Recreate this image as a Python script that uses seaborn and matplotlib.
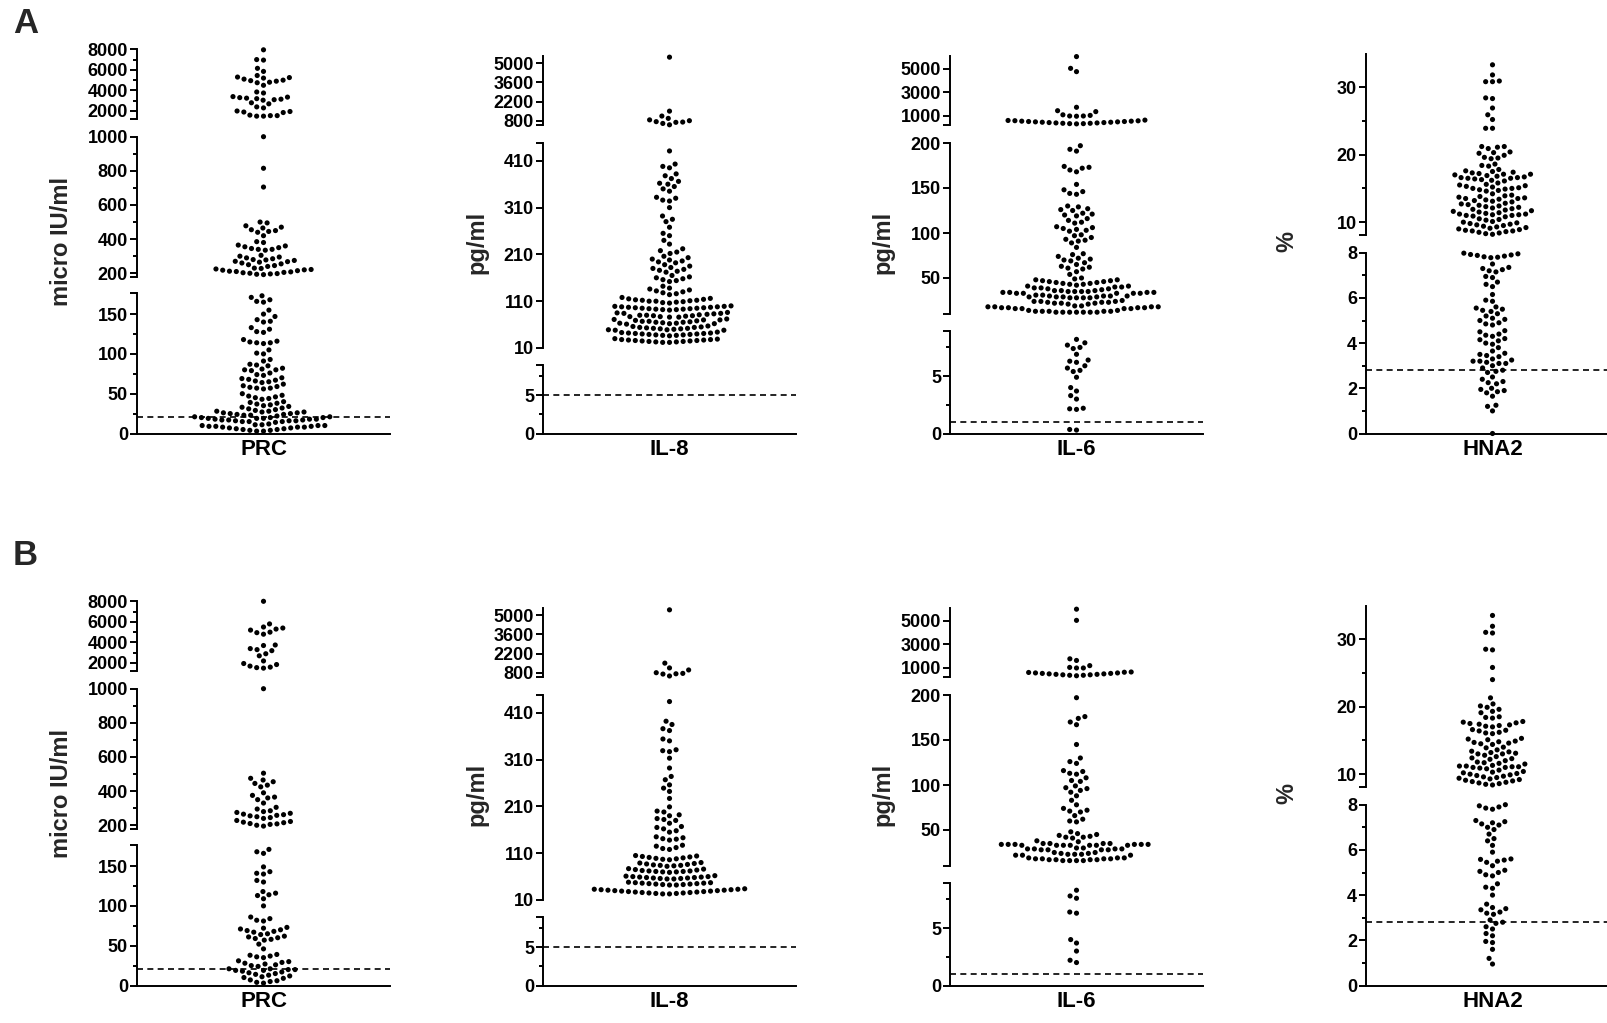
import matplotlib
matplotlib.use("Agg")
import matplotlib.pyplot as plt
import numpy as np
import pandas as pd
import seaborn as sns

sns.set_theme(style="ticks")
plt.rcParams["font.family"] = ["Liberation Sans", "DejaVu Sans"]
plt.rcParams["font.weight"] = "bold"
plt.rcParams["axes.labelweight"] = "bold"

# ---------------- data ----------------
markers = ["PRC", "IL-8", "IL-6", "HNA2"]
units = ["micro IU/ml", "pg/ml", "pg/ml", "%"]
thresholds = [21, 5, 1, 2.8]
panel_letters = ["A", "B"]

prc_a = [7950, 7000, 6950, 6150, 5850, 5450, 5300, 5250, 5200, 5100, 5000, 4950, 4900,
         4800, 4750, 4500, 3850, 3750, 3400, 3350, 3300, 3250, 3200, 3150, 3100, 3050,
         2800, 2700, 2400, 2300, 2000, 1950, 1900, 1850, 1600, 1550, 1550, 1500, 1500,
         1000, 815, 705, 500, 495, 478, 470, 465, 455, 450, 445, 440, 420, 385, 380,
         365, 360, 355, 350, 345, 340, 340, 335, 305, 300, 295, 290, 285, 280, 278, 275,
         270, 268, 265, 260, 255, 250, 245, 240, 230, 228, 225, 222, 220, 218, 215, 212,
         210, 208, 205, 203, 200, 198, 196, 194, 192,
         173, 171, 168, 166, 165, 155, 150, 147, 143, 141, 140, 133, 131, 128, 127,
         118, 116, 115, 114, 114, 113, 105, 101, 100, 93, 91, 87, 86, 85, 82, 81, 80,
         80, 79, 76, 74, 73, 70, 69, 68, 67, 66, 65, 64, 62, 60, 59, 58, 57, 57, 56,
         50, 48, 47, 46, 45, 44, 43, 40, 39, 38, 37, 36, 35, 34, 33, 32, 31,
         30, 29, 28, 28, 27, 27, 26, 26, 25, 25, 24, 24, 23, 23,
         22, 21, 21, 20, 20, 20, 19, 19, 19, 18, 18, 18, 17, 17, 17, 16, 16, 16, 15, 15, 15, 14,
         12, 11, 11, 10, 10, 10, 9, 9, 9, 8, 8, 8, 7, 7, 6, 6, 5, 5, 4, 4, 3, 3]

il8_a = [5450, 1500, 1140, 970, 860, 800, 730, 700, 680, 600, 500,
         431, 403, 398, 395, 382, 378, 372, 366, 362, 360, 355, 350, 345, 332, 330, 326,
         324, 310, 292, 285, 280, 268, 255, 250, 240, 232, 222, 218, 215, 212,
         206, 203, 200, 198, 196, 194, 192, 188, 185, 182, 180, 178, 176, 174, 172,
         165, 162, 160, 158, 156, 154, 152, 142, 138, 136, 134, 132, 130, 128, 126, 124,
         118, 116, 115, 114, 113, 112, 112, 111, 110, 110, 109, 108, 107, 106,
         100, 99, 99, 98, 98, 97, 97, 96, 96, 95, 95, 94, 94, 93, 93, 92, 92, 91,
         86, 85, 84, 84, 83, 82, 81, 80, 80, 79, 79, 78, 77, 77, 76, 76,
         72, 71, 70, 70, 69, 68, 67, 67, 66, 65, 65, 64, 63, 63, 62, 62, 61,
         57, 56, 55, 54, 54, 53, 52, 52, 51, 51, 50, 49, 49, 48, 48,
         44, 43, 42, 42, 41, 41, 40, 40, 39, 39, 38, 38, 37, 37, 36,
         30, 29, 28, 28, 27, 27, 26, 26, 25, 25, 24, 24, 23, 23, 22, 22]

il6_a = [6050, 5050, 4770, 1740, 1450, 1370, 1100, 1050, 1000, 1000, 980,
         650, 620, 590, 560, 530, 500, 470, 440, 410, 380, 350, 330, 350, 380, 410, 440,
         470, 500, 530, 560, 600,
         197, 193, 191, 174, 173, 172, 170, 168, 154, 148, 146, 144, 143,
         130, 129, 127, 126, 125, 122, 121, 120, 119, 116, 114, 112, 111,
         107, 106, 105, 104, 103, 102, 98, 97, 95, 93, 92, 91, 89, 84,
         77, 76, 74, 72, 71, 70, 69, 67, 65, 63, 62, 61, 60, 57, 54,
         50, 49, 48, 48, 47, 47, 46, 46, 45, 45, 44, 44, 43, 43,
         42, 41, 41, 40, 40, 39, 39, 38, 38, 37,
         36, 36, 36, 35, 35, 35, 35, 34, 34, 34, 34, 33, 33, 33, 33, 33,
         31, 31, 30, 30, 30, 30, 29, 29, 29, 29, 28, 28, 28, 28,
         25, 24, 24, 24, 23, 23, 23, 22, 22, 22, 21, 21,
         19, 19, 18, 18, 18, 18, 17, 17, 17, 17, 16, 16, 16, 16,
         14, 14, 13, 13, 13, 13, 13, 12, 12, 12, 12, 12, 12, 12,
         8.2, 7.9, 7.7, 7.5, 7.4, 6.9, 6.4, 6.3, 6.2, 5.9, 5.7, 5.5, 5.4, 4.9, 4.0, 3.7,
         3.3, 3.0, 2.2, 2.15, 2.1, 0.35, 0.3]

hna2_a = [33.3, 31.8, 30.9, 30.8, 30.8, 28.4, 28.3, 26.9, 25.9, 25.2, 23.9, 23.9,
          21.2, 21.2, 21.1, 20.9, 20.4, 20.3, 20.2, 19.9, 19.6, 19.5, 19.4,
          18.6, 18.4, 18.3, 17.8, 17.6, 17.5, 17.4, 17.3, 17.2, 17.1, 17.1, 17.0,
          16.9, 16.8, 16.7, 16.6, 16.6, 16.5, 16.5, 16.4, 16.3, 16.2, 16.1,
          15.8, 15.6, 15.5, 15.4, 15.3, 15.2, 15.1, 15.0, 15.0, 14.9, 14.8, 14.7, 14.6,
          14.2, 14.0, 13.9, 13.8, 13.7, 13.6, 13.5, 13.5, 13.4, 13.3, 13.2, 13.1, 13.0,
          12.8, 12.7, 12.6, 12.5, 12.4, 12.3, 12.2, 12.1, 12.0, 11.9, 11.8,
          11.7, 11.6, 11.5, 11.4, 11.3, 11.2, 11.2, 11.1, 11.1, 11.0, 11.0, 10.9, 10.8,
          10.5, 10.4, 10.3, 10.1, 10.0, 9.9, 9.8, 9.7, 9.6, 9.5, 9.4, 9.3,
          9.2, 9.1, 9.0, 8.9, 8.8, 8.7, 8.7, 8.6, 8.5, 8.4, 8.3, 8.2,
          7.98, 7.95, 7.92, 7.9, 7.88, 7.85, 7.82, 7.8, 7.78, 7.5, 7.35, 7.3, 7.25, 7.2,
          7.15, 6.95, 6.9, 6.7, 6.6, 6.5, 6.15, 5.9, 5.85, 5.6, 5.55, 5.5, 5.45, 5.4, 5.3,
          5.2, 5.1, 5.05, 5.0, 4.9, 4.85, 4.8, 4.55, 4.5, 4.4, 4.35, 4.3, 4.2, 4.15, 4.1,
          4.0, 3.95, 3.8, 3.65, 3.55, 3.5, 3.45, 3.4, 3.3, 3.25, 3.2, 3.2, 3.15, 3.1, 3.1,
          3.0, 2.9, 2.8, 2.75, 2.7, 2.5, 2.4, 2.3, 2.25, 2.2, 2.0, 1.95, 1.9, 1.85, 1.8,
          1.65, 1.25, 1.2, 1.0, 0.0]

prc_b = [8000, 5800, 5500, 5400, 5300, 5200, 5000, 4950, 4800, 3750, 3700, 3400, 3300,
         3200, 2900, 2700, 2200, 1950, 1850, 1700, 1600, 1550, 1500,
         1000, 505, 475, 465, 455, 445, 435, 425, 390, 375, 365, 360, 350, 330, 305, 295,
         285, 280, 275, 270, 265, 262, 258, 255, 250, 245, 240, 228, 222, 218, 215, 210,
         208, 205, 200, 195,
         171, 168, 166, 149, 143, 141, 140, 132, 130, 118, 116, 114, 113, 109, 100, 86,
         84, 82, 81, 73, 72, 71, 70, 69, 68, 67, 65, 64, 62, 61, 60, 59, 58, 57, 52, 46,
         39, 38, 37, 36, 35, 31, 30, 29, 28, 27, 26, 25, 24, 21, 21, 20, 20, 19, 19, 18,
         17, 16, 15, 14, 13, 12, 11, 10, 9, 7, 6, 5, 4, 3]

il8_b = [5400, 1500, 1150, 1000, 800, 750, 720, 700, 560,
         434, 392, 385, 376, 372, 354, 350, 331, 329, 327, 313, 292, 274, 267, 256, 249,
         242, 227, 209, 200, 198, 192, 190, 184, 182, 180, 174, 167, 165, 162, 158, 155,
         145, 143, 141, 140, 138, 127, 125, 122, 120, 118,
         105, 104, 103, 102, 101, 100, 99, 98, 97, 96, 90, 89, 88, 87, 86, 85, 84, 84,
         83, 82, 77, 76, 75, 74, 73, 72, 72, 71, 71, 70, 70, 69,
         62, 61, 60, 60, 59, 59, 58, 58, 57, 57, 56, 56, 55, 55,
         48, 47, 47, 46, 46, 45, 45, 44, 44, 43, 43, 42, 42,
         34, 33, 33, 32, 32, 31, 31, 30, 30, 29, 29, 28, 28, 27, 27, 26, 26, 25, 25, 24,
         24, 23, 23]

il6_b = [6000, 5050, 1780, 1640, 1200, 1050, 1000, 1000, 660, 620, 580, 540, 500, 460,
         420, 380, 340, 380, 420, 460, 500, 540, 580, 640,
         197, 176, 174, 170, 167, 145, 130, 126, 124, 116, 115, 113, 112, 108, 105, 104,
         99, 97, 96, 94, 92, 88, 83, 78, 74, 72, 71, 70, 66, 62, 60, 59,
         48, 46, 45, 44, 43, 42, 42, 41, 38, 37,
         35, 35, 35, 35, 34, 34, 34, 34, 34, 34, 33, 33, 33, 33, 33, 33, 33,
         30, 30, 29, 29, 29, 29, 28, 28, 28, 28,
         25, 25, 24, 24, 23, 23, 23, 22, 22, 22,
         19, 19, 19, 18, 18, 18, 18, 17, 17, 17, 17, 16, 16, 16, 16,
         8.3, 7.8, 7.6, 6.4, 6.3, 4.0, 3.7, 3.0, 2.2, 2.0]

hna2_b = [33.5, 31.9, 31.0, 30.9, 28.5, 28.4, 25.8, 24.0, 21.3, 20.4, 20.1, 19.9, 19.6,
          19.3, 19.1, 18.5, 18.4, 18.3, 17.8, 17.7, 17.6, 17.5, 17.4, 17.3, 17.2, 17.1,
          17.0, 16.6, 16.5, 16.4, 16.2, 16.1, 16.0, 15.3, 15.2, 15.1, 14.9, 14.8, 14.7,
          14.6, 14.5, 14.4, 14.0, 13.9, 13.6, 13.4, 13.3, 13.2, 13.1, 13.0, 13.0, 12.8,
          12.6, 12.4, 12.3, 12.2, 12.0, 11.8, 11.7, 11.6, 11.5,
          11.3, 11.2, 11.2, 11.1, 11.1, 11.0, 11.0, 10.9, 10.8,
          10.6, 10.4, 10.3, 10.2, 10.1, 10.0, 9.9, 9.8, 9.7,
          9.6, 9.5, 9.4, 9.3, 9.2, 9.1, 9.0, 8.9, 8.8, 8.7, 8.6, 8.5, 8.4,
          8.0, 7.95, 7.9, 7.85, 7.8, 7.3, 7.25, 7.2, 7.15, 7.1, 7.0, 6.9, 6.7, 6.5, 6.4,
          6.2, 5.9, 5.6, 5.58, 5.55, 5.5, 5.45, 5.3, 5.1, 5.05, 5.0, 4.9, 4.85, 4.5,
          4.35, 4.3, 4.0, 3.6, 3.45, 3.4, 3.35, 3.25, 3.2, 3.15, 2.9, 2.8, 2.75, 2.6,
          2.5, 2.3, 2.2, 1.95, 1.9, 1.6, 1.2, 0.95]

rows = [[prc_a, il8_a, il6_a, hna2_a], [prc_b, il8_b, il6_b, hna2_b]]

# ---------------- axis layout (broken y-axes) ----------------
segments = {
    "PRC": [
        dict(lim=(1222, 8000), px=(49.3, 119), major=[2000, 4000, 6000, 8000],
             minor=[3000, 5000, 7000], caps=[1222]),
        dict(lim=(178, 1000), px=(136.7, 277), major=[200, 400, 600, 800, 1000],
             minor=[300, 500, 700, 900], caps=[178]),
        dict(lim=(0, 176.5), px=(293, 433.5), major=[0, 50, 100, 150],
             minor=[25, 75, 125], caps=[176.5]),
    ],
    "IL-8": [
        dict(lim=(485, 5535), px=(56, 125), major=[800, 2200, 3600, 5000],
             minor=[], caps=[485]),
        dict(lim=(10, 448), px=(143, 348), major=[10, 110, 210, 310, 410],
             minor=[], caps=[448]),
        dict(lim=(0, 8.9), px=(365, 433.5), major=[0, 5], minor=[2.5, 7.5], caps=[8.9]),
    ],
    "IL-6": [
        dict(lim=(234, 6100), px=(56, 125), major=[1000, 3000, 5000], minor=[],
             caps=[234]),
        dict(lim=(10, 200), px=(143, 314), major=[50, 100, 150, 200], minor=[],
             caps=[10]),
        dict(lim=(0, 8.93), px=(331, 433.5), major=[0, 5], minor=[2.5, 7.5],
             caps=[8.93]),
    ],
    "HNA2": [
        dict(lim=(8.1, 34.9), px=(54, 235), major=[10, 20, 30], minor=[15, 25],
             caps=[8.1]),
        dict(lim=(0, 8), px=(252.7, 433.5), major=[0, 2, 4, 6, 8], minor=[1, 3, 5, 7],
             caps=[]),
    ],
}
spine_x = [137, 543, 950, 1366]
ax_w = 253
row_off = [0, 552]
ylabel_x = [61, 477, 883, 1287]
ylabel_y = 242
letter_y = [33, 565]

W, H = 1607, 1023
fig = plt.figure(figsize=(W / 100, H / 100), dpi=100)
fig.patch.set_facecolor("white")


def fmt(v):
    return str(int(v)) if float(v).is_integer() else str(v)


for r, row in enumerate(rows):
    off = row_off[r]
    for c, name in enumerate(markers):
        vals = row[c]
        segs = segments[name]
        for k, seg in enumerate(segs):
            lo, hi = seg["lim"]
            top_px, bot_px = seg["px"]
            ax = fig.add_axes([spine_x[c] / W, 1 - (bot_px + off) / H, ax_w / W,
                               (bot_px - top_px) / H])
            ax.patch.set_visible(False)
            sub = [v for v in vals if lo <= v <= hi]
            df = pd.DataFrame({"marker": pd.Categorical([name] * len(sub),
                                                        categories=[name]),
                               "value": sub})
            is_bottom = k == len(segs) - 1
            if is_bottom:
                ax.axhline(thresholds[c], color="black", lw=1.2,
                           ls=(0, (3.6, 2.6)), zorder=1)
            if len(sub):
                sns.swarmplot(data=df, x="marker", y="value", ax=ax, color="black",
                              size=3.7, linewidth=1.0, edgecolor="none",
                              warn_thresh=1.0, clip_on=False, zorder=3)
            ax.set_xlim(-0.5, 0.5)
            ax.set_ylim(lo, hi)
            ticks = list(seg["major"]) + list(seg["caps"])
            labels = [fmt(t) for t in seg["major"]] + [""] * len(seg["caps"])
            ax.set_yticks(ticks, labels)
            ax.set_yticks(seg["minor"], minor=True)
            ax.tick_params(axis="y", which="major", length=5, width=1.4, pad=1.5,
                           labelsize=13, color="black", labelcolor="black")
            ax.tick_params(axis="y", which="minor", length=3, width=1.4,
                           color="black")
            ax.set_ylabel("")
            ax.set_xlabel("")
            for s in ["top", "right"]:
                ax.spines[s].set_visible(False)
            ax.spines["left"].set_linewidth(1.4)
            ax.spines["left"].set_color("black")
            if is_bottom:
                ax.spines["bottom"].set_linewidth(1.4)
                ax.spines["bottom"].set_color("black")
                ax.set_xticks([0], [name])
                ax.tick_params(axis="x", length=0, labelsize=16, pad=4,
                               labelcolor="black")
            else:
                ax.spines["bottom"].set_visible(False)
                ax.set_xticks([])
            for lab in ax.get_yticklabels() + ax.get_xticklabels():
                lab.set_fontweight("bold")
        fig.text(ylabel_x[c] / W, 1 - (ylabel_y + off) / H, units[c], rotation=90,
                 ha="center", va="center", fontsize=17, fontweight="bold")
    fig.text(13 / W, 1 - letter_y[r] / H, panel_letters[r], fontsize=25,
             fontweight="bold", ha="left", va="baseline")

fig.savefig("out.png", dpi=100, facecolor="white")
